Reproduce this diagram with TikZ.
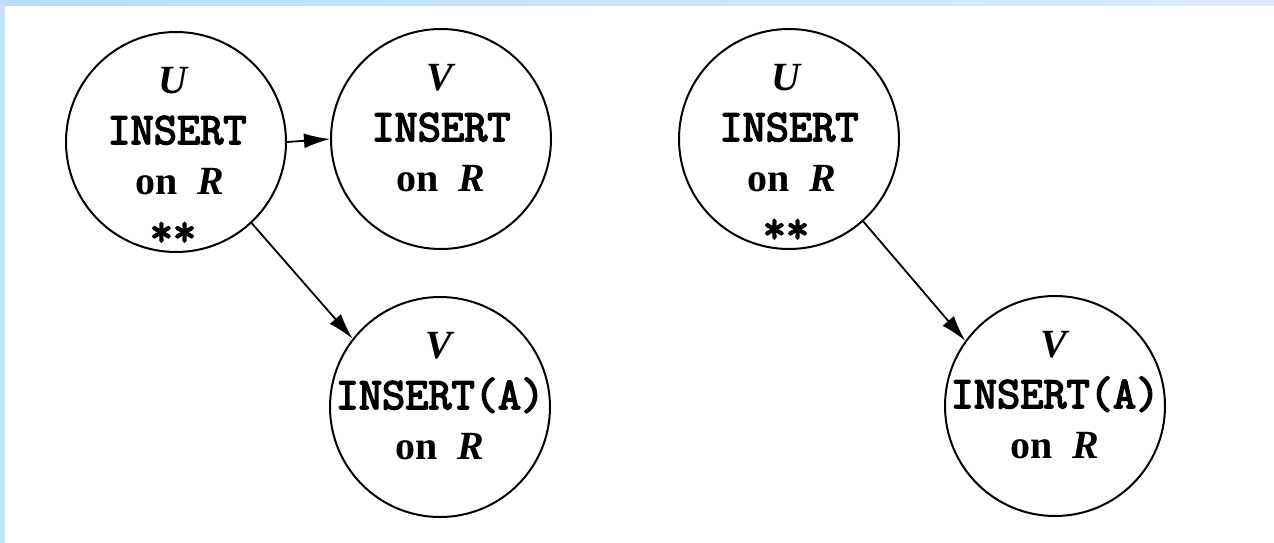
\documentclass[tikz,border=0pt]{standalone}
\usepackage{fontspec}
\setmainfont{Liberation Serif}
\newfontfamily\monofam{Latin Modern Mono}[FakeBold=3.5]
\usetikzlibrary{arrows.meta}
\definecolor{bandA}{RGB}{187,220,253}
\definecolor{bandB}{RGB}{220,235,252}
\definecolor{bandL}{RGB}{196,224,253}
\newcommand{\vb}[1]{\textbf{\textit{#1}}}
\newcommand{\onR}{\textbf{on}\hspace{20pt}\vb{R}}
\begin{document}
\begin{tikzpicture}[x=1pt,y=-1pt,
  state/.style={circle,draw,line width=2pt,minimum size=220pt,inner sep=0pt},
  txt/.style={anchor=base,inner sep=0pt,font=\fontsize{40}{48}\selectfont},
  tt/.style={anchor=base,inner sep=0pt,font=\monofam\fontsize{45}{50}\selectfont},
  arr/.style={line width=1.8pt,-{Latex[length=26pt,width=15pt]}}]
\useasboundingbox (0,0) rectangle (1274,543);
\fill[white] (0,0) rectangle (1274,543);
\shade[left color=bandA,right color=bandB] (0,0) rectangle (1274,6);
\fill[bandL] (0,0) rectangle (5,543);

% left diagram
\node[state] (c1) at (176,142) {};
\node[txt] (c1a) at (174,93) {\vb{U}};
\node[tt]  (c1b) at (177,144) {INSERT};
\node[txt] (c1c) at (180,194) {\onR};
\node[tt]  (c1d) at (173,246) {**};

\node[state] (c2) at (441,139) {};
\node[txt] (c2a) at (441,90) {\vb{V}};
\node[tt]  (c2b) at (441,141) {INSERT};
\node[txt] (c2c) at (441,191) {\onR};

\node[state] (c3) at (440,407) {};
\node[txt] (c3a) at (440,358) {\vb{V}};
\node[tt]  (c3b) at (440,409) {INSERT(A)};
\node[txt] (c3c) at (440,459) {\onR};

% right diagram
\node[state] (c4) at (789,139) {};
\node[txt] (c4a) at (787,90) {\vb{U}};
\node[tt]  (c4b) at (789,141) {INSERT};
\node[txt] (c4c) at (792,191) {\onR};
\node[tt]  (c4d) at (786,243) {**};

\node[state] (c5) at (1055,406) {};
\node[txt] (c5a) at (1055,357) {\vb{V}};
\node[tt]  (c5b) at (1055,408) {INSERT(A)};
\node[txt] (c5c) at (1055,458) {\onR};

% connectors
\draw[arr] (c1.east) -- (c2.west);
\draw[arr] (c1.-47) -- (c3.142);
\draw[arr] (c4.-48) -- (c5.144);
\end{tikzpicture}
\end{document}
